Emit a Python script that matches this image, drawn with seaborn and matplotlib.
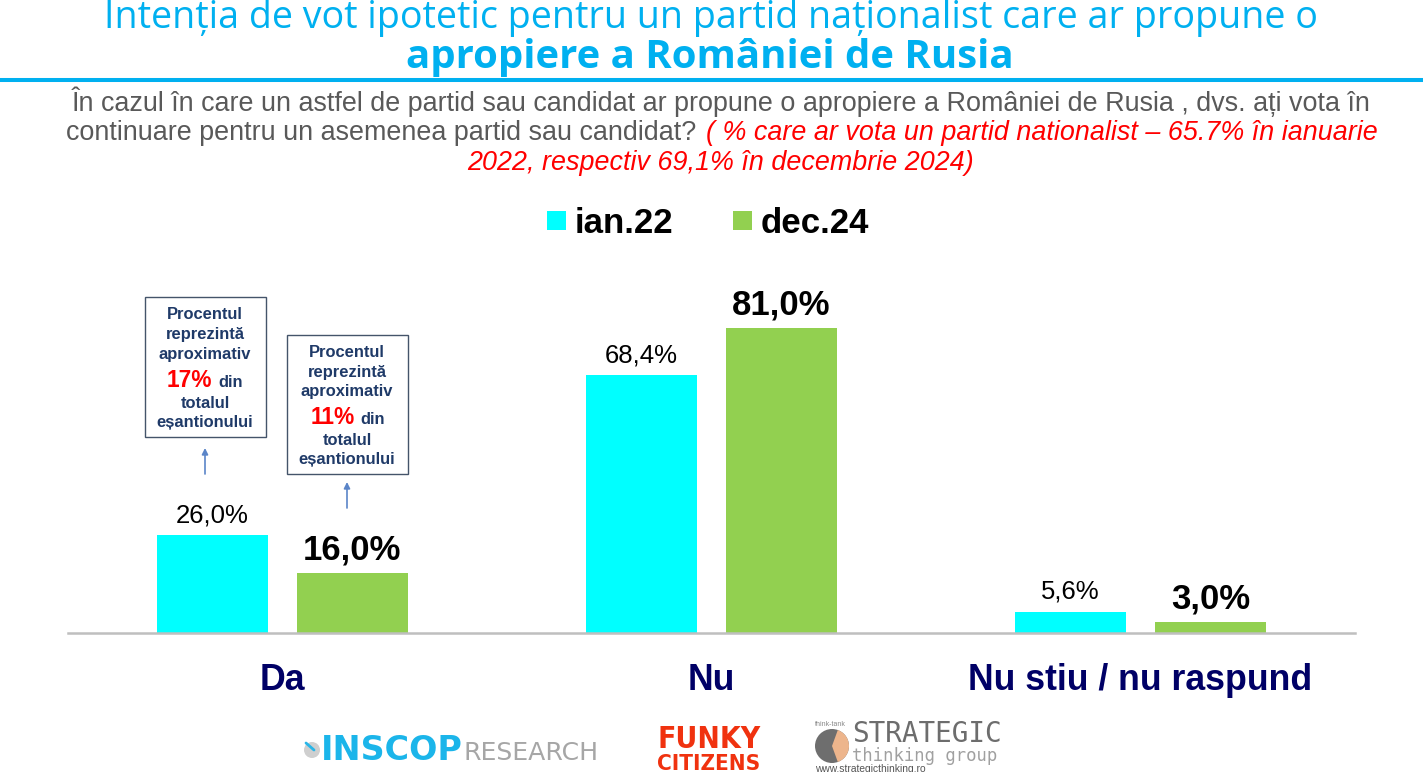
import matplotlib
matplotlib.use("Agg")
import numpy as np
import pandas as pd
import seaborn as sns
import matplotlib.pyplot as plt
from matplotlib.patches import Rectangle, Circle, Wedge, FancyArrowPatch
from matplotlib.lines import Line2D
from matplotlib.colors import to_rgb
from matplotlib import font_manager
from matplotlib.transforms import Affine2D

# ---------------- data ----------------
categories = ["Da", "Nu", "Nu stiu / nu raspund"]
periods = ["ian.22", "dec.24"]
values_ian22 = [26.0, 68.4, 5.6]
values_dec24 = [16.0, 81.0, 3.0]

title_line1 = "Intenția de vot ipotetic pentru un partid naționalist care ar propune o"
title_line2 = "apropiere a României de Rusia"
sub_line1 = "În cazul în care un astfel de partid sau candidat ar propune o apropiere a României de Rusia , dvs. ați vota în"
sub_line2_grey = "continuare pentru un asemenea partid sau candidat?"
sub_line2_red = "( % care ar vota un partid nationalist – 65.7% în ianuarie"
sub_line3_red = "2022, respectiv 69,1% în decembrie 2024)"
note1_pct = "17%"
note2_pct = "11%"

CYAN = "#00FFFF"
GREEN = "#92D050"
TITLE_BLUE = "#00B0F0"
NAVY = "#000066"
NOTE_BLUE = "#1F3A68"

df = pd.DataFrame({
    "cat": categories * 2,
    "period": [periods[0]] * len(categories) + [periods[1]] * len(categories),
    "val": values_ian22 + values_dec24,
})

def fmt(v):
    return f"{v:.1f}".replace(".", ",") + "%"

# ---------------- style ----------------
sns.set_style("white")
SANS = ["Liberation Sans", "DejaVu Sans"]
plt.rcParams["font.family"] = SANS

def has_bold(name):
    for f in font_manager.fontManager.ttflist:
        if f.name == name and str(f.weight) in ("bold", "700") and f.style == "normal":
            return True
    return False

HUMAN = "DejaVu Sans"
for cand in ["Noto Sans", "Open Sans", "DejaVu Sans"]:
    if has_bold(cand):
        HUMAN = cand
        break
HUMAN = [HUMAN, "DejaVu Sans"]

W, H = 1423, 772
fig = plt.figure(figsize=(W / 100, H / 100), dpi=100)
fig.patch.set_facecolor("white")
# pixel transform (origin bottom-left, 1 unit = 1 px at dpi 100)
PX = Affine2D().scale(1 / 100) + fig.dpi_scale_trans

def fx(x):
    return x / W

def fy(y):
    return 1 - y / H

def ftext(x, y, s, **kw):
    return fig.text(fx(x), fy(y), s, **kw)

def fit_width(t, width):
    r = fig.canvas.get_renderer()
    w = t.get_window_extent(r).width
    t.set_fontsize(t.get_fontsize() * width / w)
    return t

# ---------------- axes & bars ----------------
ax_left, ax_right, ax_bottom, ax_top = 68, 1355, 633, 256.5
ax = fig.add_axes([fx(ax_left), fy(ax_bottom), (ax_right - ax_left) / W, (ax_bottom - ax_top) / H])
sns.barplot(data=df, x="cat", y="val", hue="period", order=categories, hue_order=periods,
            palette=[CYAN, GREEN], saturation=1, width=0.652, gap=0.205, linewidth=0,
            errorbar=None, legend=False, ax=ax)
ax.set_xlim(-0.5, 2.5)
ax.set_ylim(0, 100)
for s in ["top", "left", "right"]:
    ax.spines[s].set_visible(False)
ax.spines["bottom"].set_color("#BFBFBF")
ax.spines["bottom"].set_linewidth(1.8)
ax.set_yticks([])
ax.set_xlabel("")
ax.set_ylabel("")
ax.set_xticks(range(len(categories)))
ax.set_xticklabels(categories, fontsize=25.7, fontweight="bold", color=NAVY)
ax.tick_params(axis="x", which="major", length=0, pad=21.4)
ax.set_xticks([-0.5, 0.5, 1.5, 2.5], minor=True)
ax.tick_params(axis="x", which="minor", length=8, width=0.8, color="#A6A6A6", direction="out")

green_rgb = np.array(to_rgb(GREEN))
for bar in ax.patches:
    h = bar.get_height()
    is_green = np.allclose(np.array(bar.get_facecolor()[:3]), green_rgb, atol=0.02)
    ax.annotate(fmt(h), (bar.get_x() + bar.get_width() / 2, h), xytext=(0, 9.4),
                textcoords="offset points", ha="center", va="baseline",
                fontsize=25 if is_green else 18.5,
                fontweight="bold" if is_green else "normal", color="black")

# ---------------- legend (manual) ----------------
for (x0, x1), col, lab, tx in [((547, 566), CYAN, periods[0], 575), ((733, 752), GREEN, periods[1], 761)]:
    fig.add_artist(Rectangle((fx(x0), fy(229.5)), (x1 - x0) / W, 18.5 / H,
                             transform=fig.transFigure, facecolor=col, edgecolor="none"))
    ftext(tx, 232.7, lab, fontsize=25.1, fontweight="bold", color="black", ha="left", va="baseline")

# ---------------- title ----------------
t1 = ftext(711, 28, title_line1, fontsize=24, color=TITLE_BLUE, ha="center", va="baseline", family=HUMAN)
fit_width(t1, 1214)
t2 = ftext(710, 68, title_line2, fontsize=26, color=TITLE_BLUE, ha="center", va="baseline",
           family=HUMAN, fontweight="bold")
fit_width(t2, 610)
fig.add_artist(Line2D([0, 1], [fy(80), fy(80)], transform=fig.transFigure, color=TITLE_BLUE, lw=2.9))

# ---------------- subtitle ----------------
GREY = "#595959"
s1 = ftext(721, 111, sub_line1, fontsize=20, color=GREY, ha="center", va="baseline")
fit_width(s1, 1297)
fs = s1.get_fontsize()
ftext(66, 140, sub_line2_grey, fontsize=fs, color=GREY, ha="left", va="baseline")
ftext(1378, 140, sub_line2_red, fontsize=fs, color="#FF0000", style="italic", ha="right", va="baseline")
ftext(721, 170, sub_line3_red, fontsize=fs, color="#FF0000", style="italic", ha="center", va="baseline")

# ---------------- note boxes ----------------
def note_box(x0, y0, x1, y1, cx, baselines, pct, pct_base, pct_right, din_left, arrow):
    fig.add_artist(Rectangle((fx(x0), fy(y1)), (x1 - x0) / W, (y1 - y0) / H,
                             transform=fig.transFigure, facecolor="white",
                             edgecolor="#44546A", lw=1.0))
    lines = ["Procentul", "reprezintă", "aproximativ", "totalul", "eșantionului"]
    for s, b in zip(lines, baselines):
        ftext(cx, b, s, fontsize=11.9, fontweight="bold", color=NOTE_BLUE, ha="center", va="baseline")
    ftext(pct_right, pct_base, pct, fontsize=16.4, fontweight="bold", color="#FF0000", ha="right", va="baseline")
    ftext(din_left, pct_base, "din", fontsize=11.9, fontweight="bold", color=NOTE_BLUE, ha="left", va="baseline")
    ax_, tail, head = arrow
    fig.add_artist(FancyArrowPatch((fx(ax_), fy(tail)), (fx(ax_), fy(head)), transform=fig.transFigure,
                                   arrowstyle="-|>", mutation_scale=9, color="#5B85C8", lw=1.2,
                                   shrinkA=0, shrinkB=0))

note_box(145, 297, 266, 437, 205, [319, 339.3, 359, 407.7, 426.7], note1_pct, 386.7, 212, 218, (205, 474, 448))
note_box(287, 335, 408, 474, 347, [356.7, 376.7, 396, 445.3, 464], note2_pct, 424, 355, 360, (347, 508, 482))

# ---------------- logos (text approximations) ----------------
fig.add_artist(Circle((312, H - 750), 8, transform=PX, facecolor="#CFCFCF", edgecolor="none"))
fig.add_artist(Line2D([306, 314], [H - 743, H - 750], transform=PX,
                      color="#29B6E8", lw=2, solid_capstyle="round"))
ti = ftext(321, 760, "INSCOP", fontsize=20, fontweight="bold", color="#1BB5EA", ha="left",
           va="baseline", family="DejaVu Sans")
fit_width(ti, 141)
tr = ftext(463, 760, "RESEARCH", fontsize=16, color="#A6A6A6", ha="left", va="baseline",
           family="DejaVu Sans")
fit_width(tr, 135)

tf = ftext(657, 748, "FUNKY", fontsize=18, fontweight="bold", color="#F0320F", ha="left",
           va="baseline", family="DejaVu Sans", fontstretch="condensed")
fit_width(tf, 103)
tc = ftext(657, 770, "CITIZENS", fontsize=13, fontweight="bold", color="#F0320F", ha="left",
           va="baseline", family="DejaVu Sans", fontstretch="condensed")
fit_width(tc, 103)

fig.add_artist(Circle((832, H - 746), 17, transform=PX, facecolor="#6E6E6E", edgecolor="none"))
fig.add_artist(Wedge((832, H - 746), 17, -70, 70, transform=PX, facecolor="#EDB58C", edgecolor="none"))
ftext(815, 726, "think-tank", fontsize=5, color="#888888", ha="left", va="baseline")
ts = ftext(852, 742, "STRATEGIC", fontsize=20, color="#6D6D6D", ha="left", va="baseline",
           family="DejaVu Sans Mono")
fit_width(ts, 150)
tg = ftext(852, 761, "thinking group", fontsize=12, color="#A0A0A0", ha="left", va="baseline",
           family="DejaVu Sans Mono")
fit_width(tg, 145)
tw = ftext(815, 771.5, "www.strategicthinking.ro", fontsize=6, color="#555555", ha="left", va="baseline")
fit_width(tw, 112)

fig.savefig("out.png", dpi=100, facecolor="white")
